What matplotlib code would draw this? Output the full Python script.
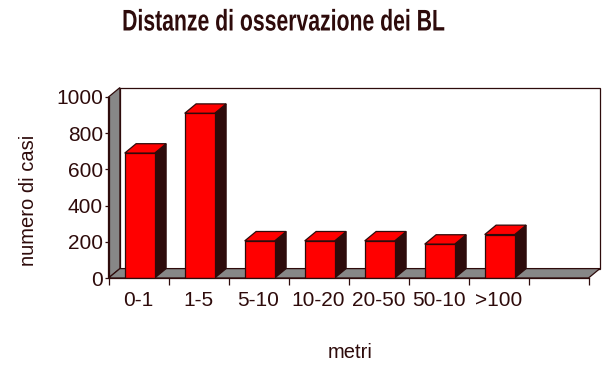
import numpy as np
import matplotlib
matplotlib.use("Agg")
import matplotlib.pyplot as plt
from matplotlib.patches import Polygon
from matplotlib.patheffects import AbstractPathEffect
from matplotlib.transforms import Affine2D

# ---- data ----
categories = ['0-1', '1-5', '5-10', '10-20', '20-50', '50-10', '>100']
values = [690, 910, 205, 205, 205, 187, 240]
yticks = [0, 200, 400, 600, 800, 1000]
title = 'Distanze di osservazione dei BL'
xlabel = 'metri'
ylabel = 'numero di casi'

# ---- style ----
DARK = '#2e0b0b'
RED = '#ff0000'
GRAY = '#878787'
n_slots = len(categories) + 1
DX, DY = 0.19, 52          # depth offset (data units)
BAR_W = 0.5
BAR_OFF = 0.52
LW = 0.9
DPI = 100


class Condense(AbstractPathEffect):
    """Horizontally squeeze text glyphs about a fixed x (pixels)."""
    def __init__(self, sx, cx):
        super().__init__()
        self.sx, self.cx = sx, cx

    def draw_path(self, renderer, gc, tpath, affine, rgbFace=None):
        t = affine + Affine2D().translate(-self.cx, 0).scale(self.sx, 1).translate(self.cx, 0)
        renderer.draw_path(gc, tpath, t, rgbFace)


fig = plt.figure(figsize=(6.15, 3.70), dpi=DPI)
ax = fig.add_axes([108.5 / 615, (370 - 278) / 370, 480 / 615, 181 / 370])
ax.set_xlim(0, n_slots)
ax.set_ylim(0, 1000)
ax.set_facecolor('none')
for s in ax.spines.values():
    s.set_visible(False)

def poly(pts, fc, z):
    p = Polygon(pts, closed=True, facecolor=fc, edgecolor=DARK, linewidth=LW,
                clip_on=False, zorder=z, joinstyle='miter')
    ax.add_patch(p)

ymax = 1000
# back wall
poly([(DX, DY), (n_slots + DX, DY), (n_slots + DX, ymax + DY), (DX, ymax + DY)], 'white', 1)
# left wall
poly([(0, 0), (DX, DY), (DX, ymax + DY), (0, ymax)], GRAY, 2)
# floor
poly([(0, 0), (n_slots, 0), (n_slots + DX, DY), (DX, DY)], GRAY, 2)

# bars
xs = np.arange(len(categories)) + BAR_OFF
for i, (x, v) in enumerate(zip(xs, values)):
    x0, x1 = x - BAR_W / 2, x + BAR_W / 2
    z = 3 + i
    ax.bar(x, v, width=BAR_W, bottom=0, color=RED, edgecolor=DARK, linewidth=LW,
           zorder=z + 0.2)
    poly([(x1, 0), (x1 + DX, DY), (x1 + DX, v + DY), (x1, v)], DARK, z)
    poly([(x0, v), (x1, v), (x1 + DX, v + DY), (x0 + DX, v + DY)], RED, z)

# front axis lines
ax.plot([0, 0], [0, ymax], color=DARK, lw=LW, zorder=20, clip_on=False)
ax.plot([0, n_slots], [0, 0], color=DARK, lw=LW, zorder=20, clip_on=False)

# ticks
ax.set_yticks(yticks)
ax.set_yticklabels([str(t) for t in yticks])
ax.tick_params(axis='y', direction='out', length=3, width=LW, color=DARK,
               labelcolor=DARK, labelsize=15, pad=1)
ax.set_xticks(np.arange(n_slots + 1))
ax.set_xticklabels([])
ax.tick_params(axis='x', which='major', direction='out', length=5, width=LW, color=DARK)
ax.set_xticks(np.arange(len(categories)) + 0.5, minor=True)
ax.set_xticklabels(categories, minor=True)
ax.tick_params(axis='x', which='minor', length=0, pad=9, labelsize=15, labelcolor=DARK)
for lab in ax.get_xticklabels(minor=True) + ax.get_yticklabels():
    lab.set_family(['Liberation Sans', 'DejaVu Sans'])

tx = 283.5 / 615
fig.text(tx, 1 - 22.5 / 370, title, ha='center', va='center', fontsize=21.5,
         fontweight='bold', color=DARK,
         family=['Liberation Sans', 'DejaVu Sans'],
         path_effects=[Condense(0.71, tx * 615)])
fig.text(350 / 615, 1 - 352 / 370, xlabel, ha='center', va='center', fontsize=14.5,
         color=DARK, family=['Liberation Sans', 'DejaVu Sans'])
fig.text(29 / 615, 1 - 200 / 370, ylabel, ha='center', va='center', fontsize=14.5,
         rotation=90, color=DARK, family=['Liberation Sans', 'DejaVu Sans'])

fig.savefig('out.png', dpi=DPI, facecolor='white')
